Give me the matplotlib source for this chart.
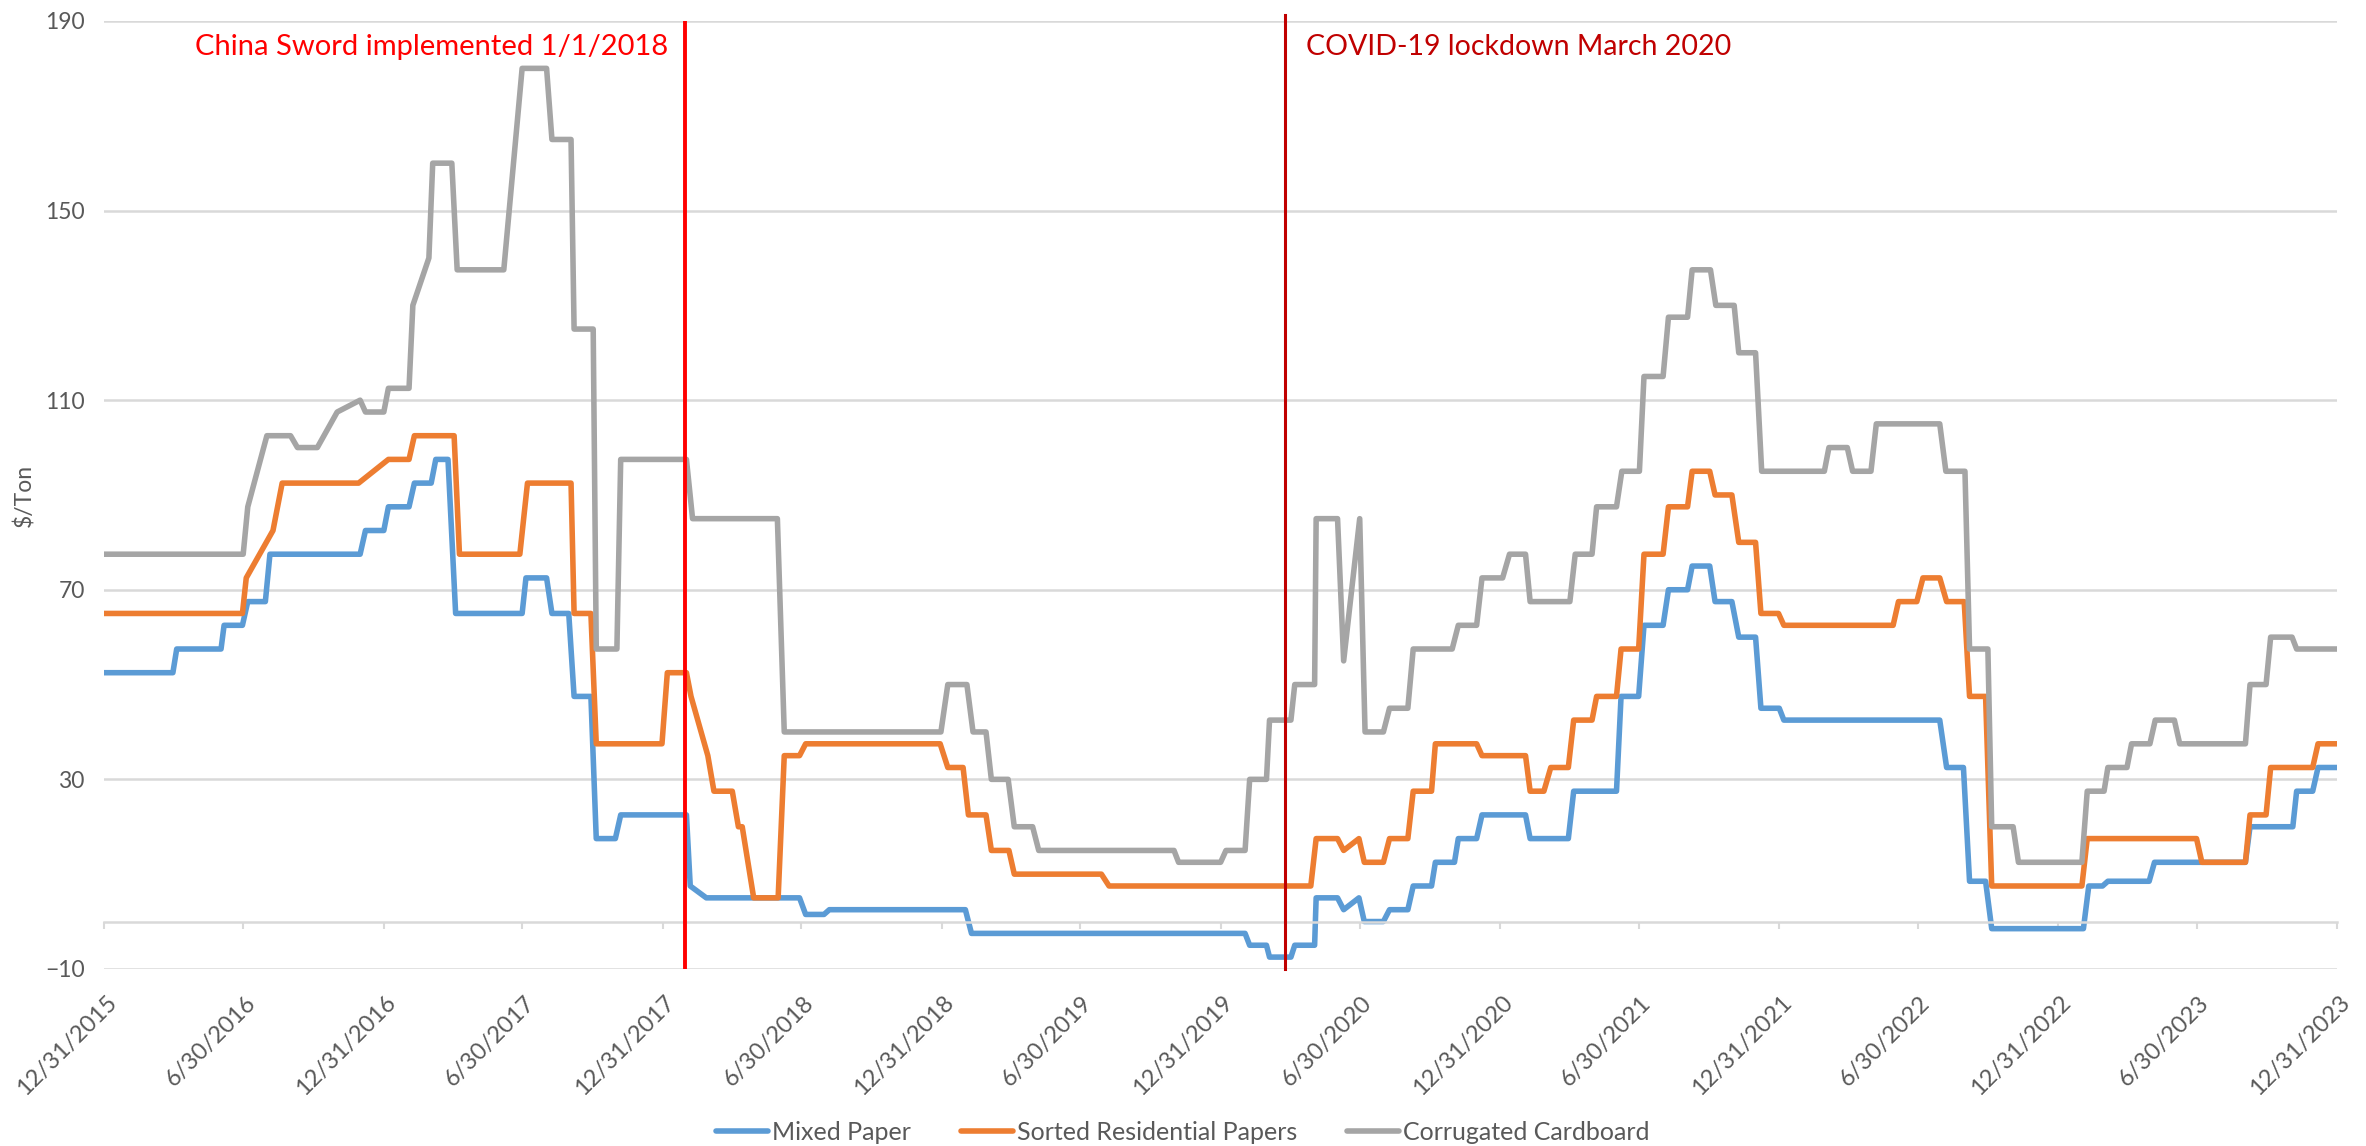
import numpy as np
import pandas as pd
import matplotlib
matplotlib.use("Agg")
import matplotlib.pyplot as plt
import matplotlib.transforms as mtransforms
from matplotlib import font_manager

# pick a narrow sans (Calibri-like) if present
names = {f.name for f in font_manager.fontManager.ttflist}
base_font = 'Liberation Sans Narrow' if 'Liberation Sans Narrow' in names else 'Lato'
plt.rcParams['font.family'] = [base_font, 'DejaVu Sans']

# ---- data: price breakpoints ($/ton) ----
mixed_dates = [
    '2015-12-31', '2016-03-30', '2016-04-04', '2016-06-01', '2016-06-05', '2016-06-29',
    '2016-07-06', '2016-07-29', '2016-08-04', '2016-11-30', '2016-12-07', '2016-12-31',
    '2017-01-06', '2017-02-02', '2017-02-09', '2017-03-03', '2017-03-09', '2017-03-25',
    '2017-04-04', '2017-06-30', '2017-07-05', '2017-08-01', '2017-08-08', '2017-08-30',
    '2017-09-06', '2017-09-28', '2017-10-05', '2017-10-30', '2017-11-06', '2018-01-31',
    '2018-02-05', '2018-02-26', '2018-06-28', '2018-07-06', '2018-07-30', '2018-08-06',
    '2019-01-31', '2019-02-08', '2020-02-01', '2020-02-07', '2020-02-29', '2020-03-04',
    '2020-04-01', '2020-04-06', '2020-05-02', '2020-05-04', '2020-06-01', '2020-06-09',
    '2020-06-29', '2020-07-06', '2020-07-31', '2020-08-08', '2020-09-01', '2020-09-08',
    '2020-10-02', '2020-10-07', '2020-11-01', '2020-11-06', '2020-11-30', '2020-12-07',
    '2021-02-02', '2021-02-08', '2021-03-30', '2021-04-06', '2021-06-01', '2021-06-07',
    '2021-06-30', '2021-07-07', '2021-08-01', '2021-08-08', '2021-09-02', '2021-09-08',
    '2021-10-01', '2021-10-08', '2021-10-30', '2021-11-08', '2021-11-30', '2021-12-07',
    '2021-12-31', '2022-01-06', '2022-07-29', '2022-08-07', '2022-08-29', '2022-09-06',
    '2022-09-27', '2022-10-05', '2023-02-02', '2023-02-09', '2023-02-27', '2023-03-06',
    '2023-04-29', '2023-05-06', '2023-09-02', '2023-09-08', '2023-11-03', '2023-11-08',
    '2023-11-29', '2023-12-06', '2023-12-31']
mixed_vals = [
    52.5, 52.5, 57.5, 57.5, 62.5, 62.5,
    67.5, 67.5, 77.5, 77.5, 82.5, 82.5,
    87.5, 87.5, 92.5, 92.5, 97.5, 97.5,
    65, 65, 72.5, 72.5, 65, 65,
    47.5, 47.5, 17.5, 17.5, 22.5, 22.5,
    7.5, 5, 5, 1.5, 1.5, 2.5,
    2.5, -2.5, -2.5, -5, -5, -7.5,
    -7.5, -5, -5, 5, 5, 2.5,
    5, 0, 0, 2.5, 2.5, 7.5,
    7.5, 12.5, 12.5, 17.5, 17.5, 22.5,
    22.5, 17.5, 17.5, 27.5, 27.5, 47.5,
    47.5, 62.5, 62.5, 70, 70, 75,
    75, 67.5, 67.5, 60, 60, 45,
    45, 42.5, 42.5, 32.5, 32.5, 8.5,
    8.5, -1.5, -1.5, 7.5, 7.5, 8.5,
    8.5, 12.5, 12.5, 20, 20, 27.5,
    27.5, 32.5, 32.5]

sorted_dates = [
    '2015-12-31', '2016-06-29', '2016-07-04', '2016-08-08', '2016-08-20', '2016-11-28',
    '2017-01-06', '2017-02-02', '2017-02-09', '2017-04-02', '2017-04-09', '2017-06-27',
    '2017-07-07', '2017-09-02', '2017-09-06', '2017-09-28', '2017-10-05', '2017-12-30',
    '2018-01-06', '2018-01-31', '2018-02-06', '2018-02-28', '2018-03-08', '2018-04-01',
    '2018-04-09', '2018-04-14', '2018-04-29', '2018-05-31', '2018-06-08', '2018-06-28',
    '2018-07-06', '2018-12-29', '2019-01-08', '2019-01-28', '2019-02-04', '2019-02-27',
    '2019-03-06', '2019-03-29', '2019-04-05', '2019-07-28', '2019-08-07', '2020-04-27',
    '2020-05-04', '2020-06-01', '2020-06-09', '2020-06-29', '2020-07-06', '2020-07-31',
    '2020-08-08', '2020-09-01', '2020-09-08', '2020-10-02', '2020-10-07', '2020-11-30',
    '2020-12-07', '2021-02-02', '2021-02-08', '2021-02-26', '2021-03-07', '2021-03-30',
    '2021-04-06', '2021-04-30', '2021-05-06', '2021-06-01', '2021-06-07', '2021-06-30',
    '2021-07-07', '2021-08-01', '2021-08-08', '2021-09-02', '2021-09-08', '2021-10-01',
    '2021-10-08', '2021-10-30', '2021-11-08', '2021-11-30', '2021-12-07', '2021-12-30',
    '2022-01-06', '2022-05-29', '2022-06-05', '2022-06-29', '2022-07-07', '2022-07-29',
    '2022-08-07', '2022-08-30', '2022-09-06', '2022-09-27', '2022-10-05', '2023-01-31',
    '2023-02-07', '2023-06-30', '2023-07-07', '2023-09-02', '2023-09-08', '2023-09-29',
    '2023-10-05', '2023-11-29', '2023-12-06', '2023-12-31']
sorted_vals = [
    65, 65, 72.5, 82.5, 92.5, 92.5,
    97.5, 97.5, 102.5, 102.5, 77.5, 77.5,
    92.5, 92.5, 65, 65, 37.5, 37.5,
    52.5, 52.5, 47.5, 35, 27.5, 27.5,
    20, 20, 5, 5, 35, 35,
    37.5, 37.5, 32.5, 32.5, 22.5, 22.5,
    15, 15, 10, 10, 7.5, 7.5,
    17.5, 17.5, 15, 17.5, 12.5, 12.5,
    17.5, 17.5, 27.5, 27.5, 37.5, 37.5,
    35, 35, 27.5, 27.5, 32.5, 32.5,
    42.5, 42.5, 47.5, 47.5, 57.5, 57.5,
    77.5, 77.5, 87.5, 87.5, 95, 95,
    90, 90, 80, 80, 65, 65,
    62.5, 62.5, 67.5, 67.5, 72.5, 72.5,
    67.5, 67.5, 47.5, 47.5, 7.5, 7.5,
    17.5, 17.5, 12.5, 12.5, 22.5, 22.5,
    32.5, 32.5, 37.5, 37.5]

cardboard_dates = [
    '2015-12-31', '2016-06-30', '2016-07-06', '2016-07-31', '2016-08-31', '2016-09-09',
    '2016-10-05', '2016-10-31', '2016-11-30', '2016-12-07', '2016-12-31', '2017-01-06',
    '2017-02-02', '2017-02-07', '2017-02-28', '2017-03-05', '2017-03-30', '2017-04-06',
    '2017-06-06', '2017-06-30', '2017-08-01', '2017-08-08', '2017-09-02', '2017-09-06',
    '2017-10-01', '2017-10-05', '2017-11-01', '2017-11-06', '2018-01-31', '2018-02-08',
    '2018-05-30', '2018-06-08', '2018-12-30', '2019-01-08', '2019-02-02', '2019-02-10',
    '2019-02-27', '2019-03-06', '2019-03-28', '2019-04-05', '2019-04-29', '2019-05-07',
    '2019-10-31', '2019-11-06', '2019-12-31', '2020-01-07', '2020-02-01', '2020-02-07',
    '2020-02-29', '2020-03-04', '2020-04-01', '2020-04-06', '2020-05-02', '2020-05-04',
    '2020-06-01', '2020-06-09', '2020-06-30', '2020-07-07', '2020-07-31', '2020-08-08',
    '2020-09-01', '2020-09-08', '2020-10-29', '2020-11-06', '2020-11-30', '2020-12-07',
    '2021-01-03', '2021-01-12', '2021-02-02', '2021-02-08', '2021-04-01', '2021-04-08',
    '2021-04-30', '2021-05-06', '2021-06-01', '2021-06-08', '2021-07-01', '2021-07-07',
    '2021-08-01', '2021-08-08', '2021-09-02', '2021-09-08', '2021-10-02', '2021-10-09',
    '2021-11-02', '2021-11-08', '2021-11-30', '2021-12-08', '2022-02-28', '2022-03-06',
    '2022-03-30', '2022-04-06', '2022-04-30', '2022-05-07', '2022-07-29', '2022-08-06',
    '2022-08-31', '2022-09-06', '2022-09-30', '2022-10-05', '2022-11-02', '2022-11-09',
    '2023-01-31', '2023-02-07', '2023-03-01', '2023-03-06', '2023-03-31', '2023-04-06',
    '2023-04-30', '2023-05-07', '2023-06-01', '2023-06-08', '2023-09-02', '2023-09-08',
    '2023-09-29', '2023-10-05', '2023-11-02', '2023-11-08', '2023-12-31']
cardboard_vals = [
    77.5, 77.5, 87.5, 102.5, 102.5, 100,
    100, 107.5, 110, 107.5, 107.5, 112.5,
    112.5, 130, 140, 160, 160, 137.5,
    137.5, 180, 180, 165, 165, 125,
    125, 57.5, 57.5, 97.5, 97.5, 85,
    85, 40, 40, 50, 50, 40,
    40, 30, 30, 20, 20, 15,
    15, 12.5, 12.5, 15, 15, 30,
    30, 42.5, 42.5, 50, 50, 85,
    85, 55, 85, 40, 40, 45,
    45, 57.5, 57.5, 62.5, 62.5, 72.5,
    72.5, 77.5, 77.5, 67.5, 67.5, 77.5,
    77.5, 87.5, 87.5, 95, 95, 115,
    115, 127.5, 127.5, 137.5, 137.5, 130,
    130, 120, 120, 95, 95, 100,
    100, 95, 95, 105, 105, 95,
    95, 57.5, 57.5, 20, 20, 12.5,
    12.5, 27.5, 27.5, 32.5, 32.5, 37.5,
    37.5, 42.5, 42.5, 37.5, 37.5, 50,
    50, 60, 60, 57.5, 57.5]

series_names = ['Mixed Paper', 'Sorted Residential Papers', 'Corrugated Cardboard']
series_colors = ['#5B9BD5', '#ED7D31', '#A5A5A5']

events = ['China Sword implemented 1/1/2018', 'COVID-19 lockdown March 2020']
event_dates = ['2018-01-29', '2020-03-24']

y_ticks = [-10, 30, 70, 110, 150, 190]
x_ticks = pd.date_range('2015-12-31', '2023-12-31', freq='6ME')

# ---- figure ----
fig = plt.figure(figsize=(23.66, 11.46), dpi=100)
ax = fig.add_axes([0.044, 0.1545, 0.9438, 0.8272])

series = [(mixed_dates, mixed_vals), (sorted_dates, sorted_vals), (cardboard_dates, cardboard_vals)]
for (d, v), name, col in zip(series, series_names, series_colors):
    ax.plot(pd.to_datetime(d), v, color=col, lw=4, label=name,
            solid_joinstyle='round', solid_capstyle='round')

# event markers
ev = pd.to_datetime(event_dates)
ax.axvline(ev[0], color='#FF0000', lw=2.8, zorder=5)
ax.axvline(ev[1], color='#C00000', lw=2.2, zorder=5, ymax=1.006, clip_on=False)
ax.annotate(events[0], xy=(ev[0], 184.6), xytext=(-12, 0), textcoords='offset points',
            ha='right', va='center', color='#FF0000', fontsize=21)
ax.annotate(events[1], xy=(ev[1], 184.6), xytext=(15, 0), textcoords='offset points',
            ha='left', va='center', color='#C00000', fontsize=20.5)

ax.set_ylim(-10, 190)
ax.set_xlim(pd.Timestamp('2015-12-31'), pd.Timestamp('2023-12-31'))

ax.set_yticks(y_ticks)
ax.yaxis.grid(True, color='#D9D9D9', lw=1.8)
ax.set_axisbelow(True)
ax.tick_params(axis='y', length=0, pad=14, labelsize=16.5, labelcolor='#595959')

for s in ['top', 'right', 'left']:
    ax.spines[s].set_visible(False)
ax.spines['bottom'].set_position(('data', 0))
ax.spines['bottom'].set_color('#D9D9D9')
ax.spines['bottom'].set_linewidth(1.8)

ax.set_xticks(x_ticks)
ax.set_xticklabels([f'{d.month}/{d.day}/{d.year}' for d in x_ticks])
ax.tick_params(axis='x', direction='out', length=5, width=1.5, color='#D9D9D9',
               pad=51, labelsize=17, labelcolor='#595959')
shift = mtransforms.ScaledTranslation(9 / 100, 0, fig.dpi_scale_trans)
for lab in ax.get_xticklabels():
    lab.set_rotation(45)
    lab.set_ha('right')
    lab.set_va('center')
    lab.set_rotation_mode('anchor')
    lab.set_transform(lab.get_transform() + shift)

ax.set_ylabel('$/Ton', color='#595959', fontsize=16.5)
ax.yaxis.set_label_coords(-0.031, 0.5)

fig.legend(loc='center', bbox_to_anchor=(0.5, 0.012), ncol=3, frameon=False,
           fontsize=18, handlelength=2.08, handletextpad=0.16, columnspacing=2.0,
           labelcolor='#595959')

fig.savefig('out.png', dpi=100)
